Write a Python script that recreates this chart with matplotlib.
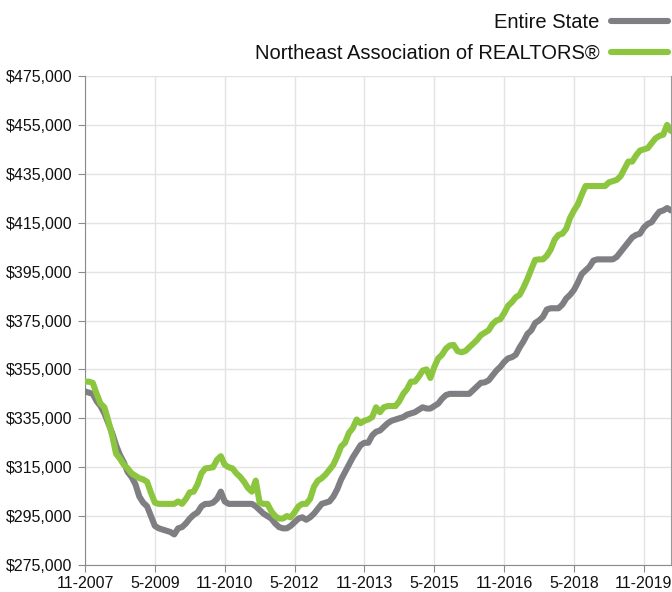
import matplotlib
matplotlib.use("Agg")
import matplotlib.pyplot as plt
from matplotlib.ticker import FuncFormatter, FixedLocator

# Monthly median prices, 11-2007 .. 6-2020 (in $ thousands)
entire_state = [
    346, 345.5, 345, 342, 340, 337, 333, 329, 324, 320,
    317, 313, 311, 308, 303, 300.5, 299, 295, 291, 290,
    289.5, 289, 288.5, 287.5, 290, 290.5, 292, 294, 295.5, 296.5,
    299, 300, 300, 300.5, 302, 305, 301, 300, 300, 300,
    300, 300, 300, 300, 299, 297.5, 296, 295, 294, 292,
    290.5, 290, 290, 291, 292.5, 294, 294.5, 293.5, 294.5, 296,
    298, 300, 300.5, 301, 303, 306, 310, 313, 316, 319,
    321.5, 324, 325, 325, 328, 329.5, 330, 331.5, 333, 334,
    334.5, 335, 335.5, 336.5, 337, 337.5, 338.5, 339.5, 339, 339,
    340, 341, 343, 344.5, 345, 345, 345, 345, 345, 345,
    346.5, 348, 349.5, 349.7, 350.5, 352.5, 354.5, 356, 358, 359.5,
    360, 361, 364, 366.5, 369.5, 371, 374, 375, 376.5, 379.5,
    380, 380, 380, 381.5, 384, 385.5, 387.5, 390.5, 394, 395.5,
    397, 399.5, 400, 400, 400, 400, 400, 401, 403, 405,
    407, 409, 410, 410.5, 413, 414.5, 415.2, 417.5, 419.5, 420,
    421, 420,
]
northeast = [
    350, 350, 349.5, 345, 341, 339.5, 334, 328, 320.5, 318.5,
    316, 314.5, 312.5, 311.5, 310.5, 310, 309, 304.5, 300.5, 300,
    300, 300, 300, 300, 301, 300, 302, 304.7, 305, 308,
    312.5, 314.5, 314.7, 315, 318, 319.5, 316, 315, 314.5, 312.5,
    311, 309, 306.5, 305, 309.5, 300.5, 300, 300, 297, 295,
    294, 294, 295, 294.5, 296.5, 299, 300, 300, 302, 307,
    309.5, 310.5, 312, 314, 316, 319.5, 323.5, 325, 329, 331,
    334.5, 333, 334, 334.5, 335.5, 339.5, 337.5, 339.5, 340, 340,
    340, 342, 345, 347, 350, 350, 352, 354.5, 355, 351.5,
    356, 359.5, 361, 363.5, 364.8, 365, 362.5, 362, 362.5, 364,
    365.5, 367, 369, 370, 371, 373.5, 375, 375.5, 378, 381,
    382.5, 384.5, 385.5, 388.5, 392, 396, 399.8, 400, 400, 401.5,
    404, 408, 410, 410.5, 412.5, 417, 420, 422.5, 426.5, 430,
    430, 430, 430, 430, 430, 431.5, 432, 432.5, 434, 437,
    440, 440, 442.5, 444.5, 445, 445.5, 447.5, 449.5, 450.5, 451,
    455, 452.5,
]
x_tick_labels = ["11-2007", "5-2009", "11-2010", "5-2012", "11-2013",
                 "5-2015", "11-2016", "5-2018", "11-2019"]
y_ticks = [275000, 295000, 315000, 335000, 355000, 375000,
           395000, 415000, 435000, 455000, 475000]
series_names = ["Entire State", "Northeast Association of REALTORS®"]

GRAY = "#7f7f83"
GREEN = "#8cc63f"

plt.rcParams["font.family"] = ["Liberation Sans", "DejaVu Sans"]

fig = plt.figure(figsize=(6.72, 5.92), dpi=100)
ax = fig.add_axes([85 / 672, 1 - 565 / 592, (671 - 85) / 672, (565 - 76) / 592])

months = list(range(len(entire_state)))
l1, = ax.plot(months, [v * 1000 for v in entire_state], color=GRAY, lw=4.4,
              solid_joinstyle="round", solid_capstyle="round", zorder=3)
l2, = ax.plot(months, [v * 1000 for v in northeast], color=GREEN, lw=4.4,
              solid_joinstyle="round", solid_capstyle="round", zorder=4)

ax.set_xlim(0, len(entire_state) - 1)
ax.set_ylim(y_ticks[0], y_ticks[-1])
ax.yaxis.set_major_locator(FixedLocator(y_ticks))
ax.yaxis.set_major_formatter(FuncFormatter(lambda v, p: f"${v:,.0f}"))
ax.xaxis.set_major_locator(FixedLocator([i * 18 for i in range(len(x_tick_labels))]))
ax.set_xticklabels(x_tick_labels)

ax.grid(True, color="#e3e3e3", lw=1)
ax.set_axisbelow(True)
ax.spines["top"].set_visible(False)
ax.spines["right"].set_color("#9a9a9a")
ax.spines["left"].set_color("#8a8a8a")
ax.spines["bottom"].set_color("#8a8a8a")
ax.tick_params(axis="both", which="both", direction="out", length=5,
               color="#8a8a8a", labelsize=11.5, labelcolor="#111111")
ax.tick_params(axis="y", pad=4)
ax.tick_params(axis="x", pad=3)

leg = ax.legend([l1, l2], series_names, loc="upper right",
                bbox_to_anchor=(676 / 672, 1 - 5 / 592), bbox_transform=fig.transFigure,
                frameon=False, markerfirst=False, fontsize=14.5,
                handlelength=2.85, handletextpad=0.55, labelspacing=0.6,
                borderaxespad=0.2, borderpad=0.2)
for t in leg.get_texts():
    t.set_color("#111111")

fig.savefig("out.png", dpi=100)
